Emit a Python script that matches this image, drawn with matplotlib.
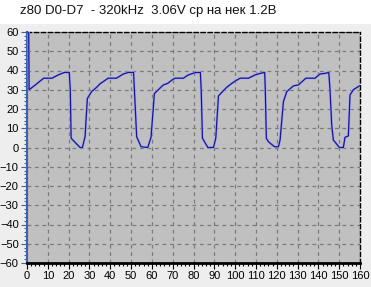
import matplotlib.pyplot as plt
from matplotlib.ticker import MultipleLocator

plt.rcParams['font.family'] = ['Liberation Sans', 'DejaVu Sans']

title = 'z80 D0-D7  - 320kHz  3.06V ср на нек 1.2В'

# samples
t = [0.8, 1, 4, 8, 12, 15, 18, 20.3, 20.8, 21.2, 25.5, 26.6, 27.9, 29, 31, 33.5, 35,
     39, 43, 46.3, 48.7, 51.2, 51.6, 52.7, 54.8, 58, 59.6, 61.2, 63.1, 65.5, 67.6,
     69.6, 71.1, 75.1, 77.5, 80.8, 83.3, 83.7, 84.3, 86.9, 89.6, 90.7, 92, 93.9, 96, 98, 100.3,
     102.4, 106.4, 109.6, 112, 114.2, 114.5, 115, 116, 118.9, 120.8, 121.6, 123.2, 124.8, 128, 130.4,
     134, 138.4, 140.8, 143.2, 145, 145.6, 146.4, 147.2, 150.1, 152, 152.8, 154.4, 155.2, 156.8, 159.7]
v = [65, 30, 32.5, 36, 36, 37.7, 39, 39, 30, 4.8, 0, 0, 5.6, 25.5, 29, 31.3, 33,
     36, 36, 38.2, 39, 39, 30, 5.6, 0.4, 0, 5.3, 28, 30, 32.5, 33.3,
     35, 36, 36, 37.7, 38.9, 39, 30, 4.8, 0, 0, 4.8, 26.8, 29, 31.3, 33, 34.7,
     36, 36, 37.7, 38.5, 39, 30, 4.8, 3, 0.4, 0.4, 3.9, 23.8, 29, 32, 32.5,
     36, 36, 38.2, 38.5, 39, 30, 11.7, 3.9, 0, 0, 5.3, 6, 27.3, 30, 32]

fig = plt.figure(figsize=(3.71, 2.87), dpi=100, facecolor='#EEEEEE')
# white title strip
fig.patches.append(plt.Rectangle((0, 1 - 24 / 287), 1, 24 / 287, transform=fig.transFigure,
                                 facecolor='white', edgecolor='none', zorder=0))
fig.text(20 / 371, 1 - 11 / 287, title, fontsize=9.5, ha='left', va='center', color='#111111')

ax = fig.add_axes([27 / 371, 24 / 287, 333 / 371, 231 / 287])
ax.set_facecolor('#C0C0C0')

ax.plot(t, v, color='#A8A8E0', lw=1.8, zorder=3)
ax.plot(t, v, color='#1414A0', lw=0.9, zorder=4)

ax.set_xlim(0, 160)
ax.set_ylim(-60, 60)
ax.xaxis.set_major_locator(MultipleLocator(10))
ax.xaxis.set_minor_locator(MultipleLocator(2))
ax.yaxis.set_major_locator(MultipleLocator(10))
ax.yaxis.set_minor_locator(MultipleLocator(2))
ax.grid(True, which='major', color='#7A7A7A', linestyle=(0, (3, 3)), lw=0.9)
ax.set_axisbelow(True)

for s in ['top', 'right']:
    ax.spines[s].set_linestyle((0, (3, 2)))
    ax.spines[s].set_linewidth(1)
ax.spines['bottom'].set_linewidth(2)
ax.spines['left'].set_color('#3A62A8')
ax.spines['left'].set_linewidth(1.5)

ax.tick_params(axis='both', which='major', length=4, width=0.8, labelsize=8, pad=2, colors='#000000')
ax.tick_params(axis='both', which='minor', length=2.5, width=0.8)
ax.tick_params(axis='y', which='both', color='#3A62A8')
ax.tick_params(axis='x', which='both', color='#000000')

fig.savefig('out.png', dpi=100, facecolor=fig.get_facecolor())
